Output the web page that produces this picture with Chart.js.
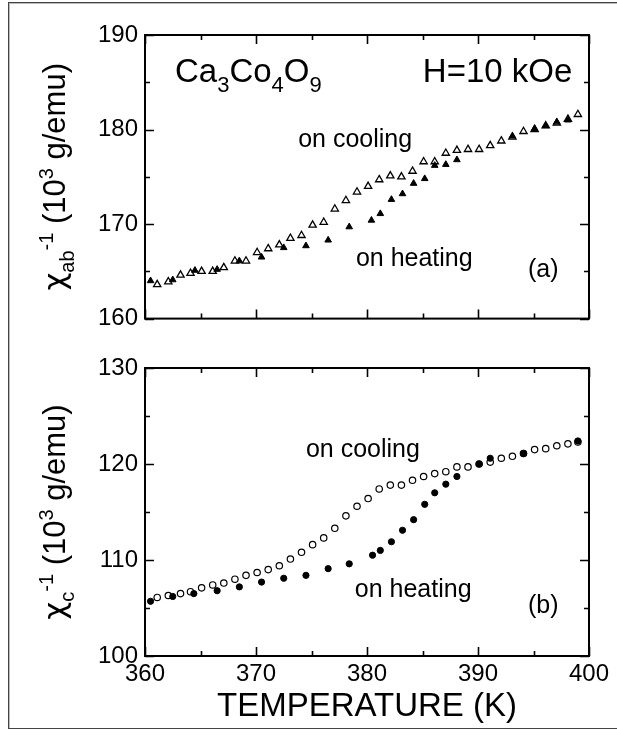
<!DOCTYPE html>
<html>
<head>
<meta charset="utf-8">
<script src="https://cdn.jsdelivr.net/npm/chart.js@4.4.1/dist/chart.umd.min.js"></script>
<style>
  html, body { margin: 0; padding: 0; background: #fff; }
  #page { position: relative; width: 617px; height: 735px; overflow: hidden; }
  #outline { position: absolute; left: 8px; top: 2px; width: 640px; height: 727px;
             border: 1px solid #444; box-shadow: inset 1px 1px 0 #bbb; box-sizing: border-box; }
  canvas { position: absolute; left: 0; }
  #top { top: 0; }
  #bottom { top: 340px; }
</style>
</head>
<body>
<div id="page">
  <div id="outline"></div>
  <canvas id="top" width="617" height="340"></canvas>
  <canvas id="bottom" width="617" height="395"></canvas>
</div>
<script>
// Temperature axis (K) and the two susceptibility ranges
const tempRange = [360, 400];
const abRange = [160, 190];
const cRange = [100, 130];
const tickStep = 5;
const labelStep = 10;

// (a) in-plane inverse susceptibility, 10^3 g/emu
const abCoolT = [361.1, 362.1, 363.2, 364.1, 365.1, 366.1, 367.1, 368.1, 369.1, 370.1,
                 371.1, 372.1, 373.1, 374.1, 375.1, 376.1, 377.1, 378.1, 379.1, 380.1,
                 381.1, 382.1, 383.1, 384.1, 385.1, 386.1, 387.1, 388.1, 389.1, 390.1,
                 391.1, 392.1, 393.1, 394.1, 395.1, 396.1, 397.1, 398.1, 399.0];
const abCoolV = [163.6, 163.9, 164.6, 164.8, 165.0, 165.0, 165.4, 166.1, 166.1, 167.0,
                 167.4, 167.8, 168.5, 168.8, 169.9, 170.2, 171.6, 172.5, 173.4, 174.0,
                 174.7, 175.1, 175.0, 175.6, 176.6, 176.6, 177.5, 177.8, 177.9, 177.9,
                 178.3, 178.8, 179.2, 179.8, 180.0, 180.4, 180.7, 181.1, 181.6];
const abHeatT = [360.5, 362.5, 364.5, 366.5, 368.5, 370.5, 372.5, 374.5, 376.5, 378.4,
                 380.4, 381.2, 382.2, 383.2, 384.2, 385.2, 386.1, 387.1, 388.1, 393.1,
                 395.1, 396.1, 397.1, 398.1];
const abHeatV = [164.0, 164.1, 165.1, 165.2, 166.1, 166.5, 167.5, 167.7, 168.3, 169.7,
                 170.4, 171.1, 172.6, 173.2, 174.3, 174.8, 176.2, 176.3, 176.8, 179.3,
                 180.1, 180.4, 180.8, 181.0];

// (b) c-axis inverse susceptibility, 10^3 g/emu
const cCoolT = [361.1, 362.1, 363.2, 364.1, 365.1, 366.1, 367.1, 368.1, 369.1, 370.1,
                371.1, 372.1, 373.1, 374.1, 375.1, 376.1, 377.1, 378.1, 379.1, 380.1,
                381.1, 382.1, 383.1, 384.1, 385.1, 386.1, 387.1, 388.1, 389.1, 390.1,
                391.1, 392.1, 393.1, 394.1, 395.1, 396.1, 397.1, 398.1, 399.0];
const cCoolV = [106.1, 106.3, 106.5, 106.7, 107.1, 107.4, 107.6, 108.0, 108.4, 108.7,
                109.0, 109.4, 110.1, 110.8, 111.6, 112.3, 113.3, 114.6, 115.6, 116.4,
                117.4, 117.8, 117.8, 118.3, 118.7, 119.0, 119.2, 119.7, 119.7, 120.0,
                120.2, 120.6, 120.8, 121.1, 121.5, 121.6, 121.9, 122.1, 122.3];
const cHeatT = [360.5, 362.5, 364.4, 366.5, 368.5, 370.5, 372.5, 374.5, 376.5, 378.4,
                380.5, 381.2, 382.2, 383.2, 384.2, 385.2, 386.1, 387.1, 388.1, 390.1,
                391.1, 394.1, 399.0];
const cHeatV = [105.7, 106.2, 106.5, 106.8, 107.2, 107.7, 108.1, 108.4, 109.1, 109.6,
                110.5, 111.0, 111.9, 113.1, 114.2, 115.8, 117.0, 117.9, 118.7, 120.0,
                120.6, 121.1, 122.4];

const FONT = '"Liberation Sans", Arial, Helvetica, sans-serif';
const GREEK = '"DejaVu Sans", sans-serif';

function pairs(xs, ys) { return xs.map((x, i) => ({ x, y: ys[i] })); }

function partFont(p, size) {
  const s = p.sub || p.sup ? Math.round(size * 0.66) : size;
  return s + 'px ' + (p.greek ? GREEK : FONT);
}

// Draws a run of text pieces, some of them sub- or superscripted
function drawRich(ctx, parts, x, y, size, align) {
  const widths = parts.map(p => { ctx.font = partFont(p, size); return ctx.measureText(p.t).width; });
  const total = widths.reduce((a, b) => a + b, 0);
  let cx = align === 'center' ? x - total / 2 : align === 'right' ? x - total : x;
  ctx.textAlign = 'left';
  ctx.textBaseline = 'alphabetic';
  parts.forEach((p, i) => {
    ctx.font = partFont(p, size);
    const dy = p.sub ? size * 0.28 : p.sup ? -size * 0.38 : 0;
    ctx.fillText(p.t, cx, y + dy);
    cx += widths[i];
  });
}

// Frame with inward tick marks on all four sides, plus the panel texts
const panelDecor = {
  id: 'panelDecor',
  afterDatasetsDraw(chart, args, opts) {
    const { ctx, chartArea: a, scales: { x, y } } = chart;
    ctx.save();
    ctx.strokeStyle = '#000';
    ctx.lineWidth = 1.6;
    ctx.beginPath();
    x.ticks.forEach(t => {
      const px = Math.round(x.getPixelForValue(t.value)) + 0.5;
      const len = t.value % labelStep === 0 ? 9 : 5;
      ctx.moveTo(px, a.bottom); ctx.lineTo(px, a.bottom - len);
      ctx.moveTo(px, a.top); ctx.lineTo(px, a.top + len);
    });
    y.ticks.forEach(t => {
      const py = Math.round(y.getPixelForValue(t.value)) + 0.5;
      const len = t.value % labelStep === 0 ? 9 : 5;
      ctx.moveTo(a.left, py); ctx.lineTo(a.left + len, py);
      ctx.moveTo(a.right, py); ctx.lineTo(a.right - len, py);
    });
    ctx.stroke();
    ctx.lineWidth = 2;
    ctx.strokeRect(a.left, a.top, a.right - a.left, a.bottom - a.top);

    ctx.fillStyle = '#000';
    (opts.notes || []).forEach(n => {
      drawRich(ctx, n.parts, x.getPixelForValue(n.at[0]), y.getPixelForValue(n.at[1]), n.size, n.align || 'left');
    });

    // rotated axis title
    ctx.translate(opts.titleX, (a.top + a.bottom) / 2);
    ctx.rotate(-Math.PI / 2);
    drawRich(ctx, opts.title, 0, 0, 31, 'center');
    ctx.restore();
  }
};

function yScale(range, afterWidth) {
  return {
    type: 'linear', min: range[0], max: range[1],
    grid: { display: false, drawTicks: false },
    border: { display: false },
    ticks: {
      stepSize: tickStep, autoSkip: false, padding: 7, color: '#000',
      font: { family: FONT, size: 24 },
      callback: v => (v % labelStep === 0 ? String(v) : '')
    },
    afterFit(s) { s.width = afterWidth; }
  };
}

const openTri = { pointStyle: 'triangle', pointRadius: 4.2, pointBackgroundColor: 'rgba(0,0,0,0)',
                  pointBorderColor: '#000', pointBorderWidth: 1.3, showLine: false };
const fullTri = { pointStyle: 'triangle', pointRadius: 3.8, pointBackgroundColor: '#000',
                  pointBorderColor: '#000', pointBorderWidth: 1, showLine: false };
const openDot = { pointStyle: 'circle', pointRadius: 3.2, pointBackgroundColor: 'rgba(0,0,0,0)',
                  pointBorderColor: '#000', pointBorderWidth: 1.2, showLine: false };
const fullDot = { pointStyle: 'circle', pointRadius: 3.1, pointBackgroundColor: '#000',
                  pointBorderColor: '#000', pointBorderWidth: 1, showLine: false };

const common = {
  responsive: false, animation: false, devicePixelRatio: 1,
  plugins: { legend: { display: false }, tooltip: { enabled: false } }
};

// Panel (a): in-plane
new Chart(document.getElementById('top'), {
  type: 'scatter',
  data: {
    datasets: [
      Object.assign({ label: 'on heating', data: pairs(abHeatT, abHeatV), clip: false }, fullTri),
      Object.assign({ label: 'on cooling', data: pairs(abCoolT, abCoolV), clip: false }, openTri)
    ]
  },
  options: Object.assign({}, common, {
    layout: { autoPadding: false, padding: { left: 0, right: 28, top: 35, bottom: 16 } },
    scales: {
      x: {
        type: 'linear', min: tempRange[0], max: tempRange[1],
        grid: { display: false, drawTicks: false }, border: { display: false },
        ticks: { display: false, stepSize: tickStep, autoSkip: false },
        afterFit(s) { s.height = 0; }
      },
      y: yScale(abRange, 145)
    },
    plugins: Object.assign({}, common.plugins, {
      panelDecor: {
        titleX: 65,
        title: [{ t: 'χ', greek: true }, { t: 'ab', sub: true }, { t: '-1', sup: true }, { t: ' (10' }, { t: '3', sup: true }, { t: ' g/emu)' }],
        notes: [
          { parts: [{ t: 'Ca' }, { t: '3', sub: true }, { t: 'Co' }, { t: '4', sub: true }, { t: 'O' }, { t: '9', sub: true }],
            at: [362.7, 185.0], size: 33 },
          { parts: [{ t: 'H=10 kOe' }], at: [398.5, 185.0], size: 33, align: 'right' },
          { parts: [{ t: 'on cooling' }], at: [373.8, 178.1], size: 25 },
          { parts: [{ t: 'on heating' }], at: [379.0, 165.6], size: 25 },
          { parts: [{ t: '(a)' }], at: [394.5, 164.4], size: 25 }
        ]
      }
    })
  }),
  plugins: [panelDecor]
});

// Panel (b): c axis
new Chart(document.getElementById('bottom'), {
  type: 'scatter',
  data: {
    datasets: [
      Object.assign({ label: 'on heating', data: pairs(cHeatT, cHeatV), clip: false }, fullDot),
      Object.assign({ label: 'on cooling', data: pairs(cCoolT, cCoolV), clip: false }, openDot)
    ]
  },
  options: Object.assign({}, common, {
    layout: { autoPadding: false, padding: { left: 0, right: 28, top: 28, bottom: 0 } },
    scales: {
      x: {
        type: 'linear', min: tempRange[0], max: tempRange[1],
        grid: { display: false, drawTicks: false }, border: { display: false },
        ticks: {
          stepSize: tickStep, autoSkip: false, maxRotation: 0, padding: 4, color: '#000',
          font: { family: FONT, size: 24 },
          callback: v => (v % labelStep === 0 ? String(v) : '')
        },
        title: { display: true, text: 'TEMPERATURE (K)', color: '#000',
                 font: { family: FONT, size: 33 }, padding: { top: 0, bottom: 8 } },
        afterFit(s) { s.height = 79; }
      },
      y: yScale(cRange, 145)
    },
    plugins: Object.assign({}, common.plugins, {
      panelDecor: {
        titleX: 65,
        title: [{ t: 'χ', greek: true }, { t: 'c', sub: true }, { t: '-1', sup: true }, { t: ' (10' }, { t: '3', sup: true }, { t: ' g/emu)' }],
        notes: [
          { parts: [{ t: 'on cooling' }], at: [374.5, 120.7], size: 25 },
          { parts: [{ t: 'on heating' }], at: [378.9, 106.1], size: 25 },
          { parts: [{ t: '(b)' }], at: [394.5, 104.5], size: 25 }
        ]
      }
    })
  }),
  plugins: [panelDecor]
});
</script>
</body>
</html>
